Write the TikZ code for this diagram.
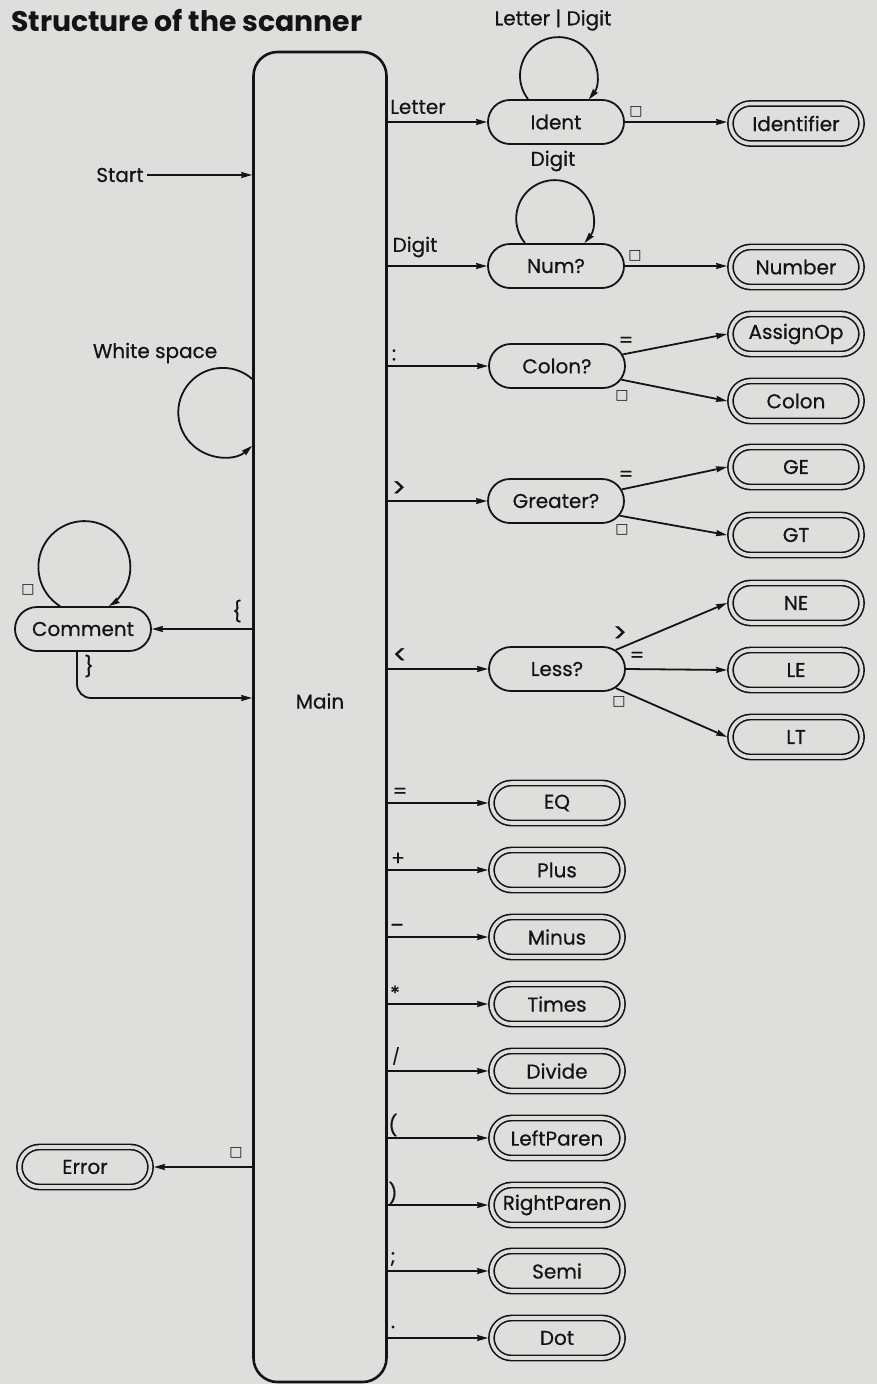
\documentclass[tikz,border=0pt]{standalone}
\usepackage{fontspec}
\setmainfont{Poppins}
\newfontfamily\nodefont{Poppins}[FakeBold=0.6]
\newfontfamily\symfont{DejaVu Sans}
\usetikzlibrary{arrows.meta,shapes.misc}
\definecolor{bg}{RGB}{222,222,220}
\definecolor{ink}{RGB}{20,20,20}
\begin{document}
\begin{tikzpicture}[x=1pt,y=1pt,
  font=\nodefont\fontsize{20}{24}\selectfont,
  every node/.style={text=ink},
  line/.style={draw=ink, line width=1.8pt},
  arr/.style={line, -{Stealth[length=11pt,width=6pt,inset=1pt]}},
  state/.style={rounded rectangle, draw=ink, line width=1.8pt, minimum width=136, minimum height=44, inner sep=0},
  term/.style={rounded rectangle, draw=ink, line width=1.6pt, double=bg, double distance=3.6pt, minimum width=131, minimum height=40, inner sep=0, outer sep=3.4pt},
  mainbox/.style={draw=ink, line width=2.6pt, rounded corners=24, minimum width=133, minimum height=1330, inner sep=0},
  lbl/.style={inner sep=0},
  biglbl/.style={inner sep=0, font=\nodefont\fontsize{26}{26}\selectfont},
  elsemark/.style={font=\symfont\fontsize{14}{14}\selectfont\bfseries, inner sep=0},
]
\fill[bg] (0,0) rectangle (877,-1384);
\useasboundingbox (0,0) rectangle (877,-1384);

% title
\node[anchor=base west, inner sep=0, font=\fontsize{28.3}{34}\selectfont\bfseries] (title) at (11,-31) {Structure of the scanner};

% main
\node[mainbox] (main) at (320,-717) {};
\node (mainlbl) at (320,-701) {Main};

% start
\node (start) at (120,-175) {Start};
\draw[arr] (start.east) -- (main.west |- start.east);

% white space loop
\node[lbl] (wslbl) at (155,-353) {White space};
\draw[arr] ([yshift=338]main.west) arc[start angle=48.6, end angle=311.4, radius=44.5];

% states
\node[state] (ident) at (556,-122) {Ident};
\node[state] (numq) at (556,-266) {Num?};
\node[state] (colonq) at (557,-366) {Colon?};
\node[state] (greaterq) at (556,-501) {Greater?};
\node[state] (lessq) at (557,-669) {Less?};
\node[state] (comment) at (83,-629) {Comment};

% terminals
\node[term] (identifier) at (796,-123.5) {Identifier};
\node[term] (number) at (796,-267) {Number};
\node[term] (assignop) at (796,-334) {AssignOp};
\node[term] (colon) at (796,-401) {Colon};
\node[term] (ge) at (796,-467) {GE};
\node[term] (gt) at (796,-535) {GT};
\node[term] (ne) at (796,-603) {NE};
\node[term] (le) at (796,-670) {LE};
\node[term] (lt) at (796,-737) {LT};
\node[term] (eq) at (557,-803) {EQ};
\node[term] (plus) at (557,-870) {Plus};
\node[term] (minus) at (557,-937) {Minus};
\node[term] (times) at (557,-1004) {Times};
\node[term] (divide) at (557,-1071) {Divide};
\node[term] (lparen) at (557,-1138) {LeftParen};
\node[term] (rparen) at (557,-1205) {RightParen};
\node[term] (semi) at (557,-1271) {Semi};
\node[term] (dot) at (557,-1338) {Dot};
\node[term] (error) at (85,-1167) {Error};

% branches from main
\draw[arr] (main.east |- ident.west) -- (ident.west);
\node[lbl] at (418,-107) {Letter};
\draw[arr] (main.east |- numq.west) -- (numq.west);
\node[lbl] at (415,-247) {Digit};
\draw[arr] (main.east |- colonq.west) -- (colonq.west);
\node[lbl] at (394,-355) {:};
\draw[arr] (main.east |- greaterq.west) -- (greaterq.west);
\node[biglbl] at (399,-489) {>};
\draw[arr] (main.east |- lessq.west) -- (lessq.west);
\node[biglbl] at (400,-656) {<};

\draw[arr] (main.east |- eq.west) -- (eq.west);
\node[lbl] at (400,-793) {=};
\draw[arr] (main.east |- plus.west) -- (plus.west);
\node[lbl] at (398,-859) {+};
\draw[arr] (main.east |- minus.west) -- (minus.west);
\node[lbl] at (397,-928) {–};
\draw[arr] (main.east |- times.west) -- (times.west);
\node[lbl] at (395,-993) {*};
\draw[arr] (main.east |- divide.west) -- (divide.west);
\node[lbl, font=\nodefont\fontsize{16}{16}\selectfont] at (396,-1056) {/};
\draw[arr] (main.east |- lparen.west) -- (lparen.west);
\node[lbl] at (393,-1125) {(};
\draw[arr] (main.east |- rparen.west) -- (rparen.west);
\node[lbl] at (393,-1193) {)};
\draw[arr] (main.east |- semi.west) -- (semi.west);
\node[lbl] at (393,-1259) {;};
\draw[arr] (main.east |- dot.west) -- (dot.west);
\node[lbl] at (393,-1327) {.};

% ident / num
\draw[arr] ([xshift=-28]ident.north) arc[start angle=217.6, end angle=-38.5, radius=38.5];
\node[lbl] at (553,-20) {Letter | Digit};
\draw[arr] (ident.east) -- (ident.east -| identifier.west);
\node[elsemark] at (636,-112) {□};
\draw[arr] ([xshift=-31]numq.north) arc[start angle=219.5, end angle=-39.5, radius=38.5];
\node[lbl] at (553,-161) {Digit};
\draw[arr] (numq.east) -- (numq.east -| number.west);
\node[elsemark] at (635,-256) {□};

% colon
\draw[arr] (colonq.10) -- (assignop.west);
\node[lbl] at (626,-342) {=};
\draw[arr] (colonq.-12) -- (colon.west);
\node[elsemark] at (622,-396) {□};
% greater
\draw[arr] (greaterq.10) -- (ge.west);
\node[lbl] at (626,-476) {=};
\draw[arr] (greaterq.-13) -- (gt.west);
\node[elsemark] at (622,-530) {□};
% less
\draw[arr] (lessq.18) -- (ne.west);
\node[biglbl] at (620,-634) {>};
\draw[arr] (lessq.east) -- (le.west);
\node[lbl] at (637,-657) {=};
\draw[arr] (lessq.-18) -- (lt.west);
\node[elsemark] at (619,-702) {□};

% comment
\draw[arr] (main.west |- comment.east) -- (comment.east);
\node[lbl] at (237,-611) {\{};
\draw[arr] ([xshift=-23]comment.north) arc[start angle=238, end angle=-58, radius=46];
\node[elsemark] at (28,-590) {□};
\coordinate (cret) at (0,-698);
\draw[arr, rounded corners=14] ([xshift=-6]comment.south) |- (main.west |- cret);
\node[lbl] at (89,-666) {\}};

% error
\draw[arr] (main.west |- error.east) -- (error.east);
\node[elsemark] at (236,-1153) {□};
\end{tikzpicture}
\end{document}
